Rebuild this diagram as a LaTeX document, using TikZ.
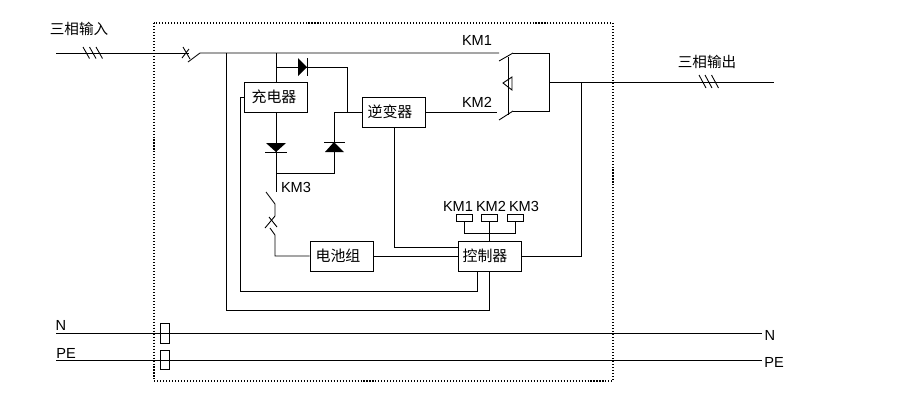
\documentclass[tikz,border=0pt]{standalone}
\usepackage{fontspec}
\setmainfont{Liberation Sans}
\newfontfamily\cjk{Noto Sans CJK SC}
\tikzset{
  wire/.style={line width=0.5pt},
  unitbox/.style={draw,line width=0.5pt,minimum width=1.26cm,minimum height=0.6cm,inner sep=0pt,font=\cjk\fontsize{8.5}{10}\selectfont},
  coilbox/.style={draw,line width=0.5pt,minimum width=0.32cm,minimum height=0.14cm,inner sep=0pt},
  fusebox/.style={draw,line width=0.5pt,minimum width=0.18cm,minimum height=0.39cm,inner sep=0pt},
  cnlabel/.style={inner sep=0pt,font=\cjk\fontsize{8.3}{10}\selectfont},
  kmlabel/.style={inner sep=0pt,font=\fontsize{8.3}{10}\selectfont}
}
\begin{document}
\begin{tikzpicture}[x=0.02cm,y=-0.02cm]
\useasboundingbox (0,0) rectangle (905,414);
\draw[line width=0.6pt,dash pattern=on 0.6pt off 1.1pt] (154,23) rectangle (613,381);
\node[unitbox] (charger) at (275.5,97) {充电器\kern0.06cm};
\node[unitbox] (inverter) at (394,112) {逆变器\kern0.16cm};
\node[unitbox] (battery) at (341.5,256) {电池组\kern0.14cm};
\node[unitbox] (ctrl) at (489.5,256) {控制器\kern0.18cm};
\node[fusebox] (fuseN) at (164.5,333.5) {};
\node[fusebox] (fusePE) at (164.5,360) {};
\foreach \n/\x in {1/464,2/489.5,3/515}
    \node[coilbox] (coil\n) at (\x,217.5) {};
\foreach \n/\x in {1/458,2/491,3/524}
    \node[kmlabel] (coiltext\n) at (\x,206.5) {KM\n};
\node[cnlabel] (inlabel) at (79,29) {三相输入};
\node[cnlabel] (outlabel) at (707,62) {三相输出};
\node[kmlabel] (km1) at (477,40) {KM1};
\node[kmlabel] (km2) at (477,102) {KM2};
\node[kmlabel] (km3) at (296,187) {KM3};
\node[kmlabel] (nleft) at (61,325) {N};
\node[kmlabel] (peleft) at (66,353) {PE};
\node[kmlabel] (nright) at (770,335) {N};
\node[kmlabel] (peright) at (774,362) {PE};
% three phase lines
\coordinate (inA) at (56,53);
\coordinate (brkA) at (189,53);
\coordinate (brkB) at (200,53);
\coordinate (tap1) at (226,53);
\coordinate (tap2) at (276,53);
\coordinate (km1A) at (499,53);
\coordinate (km1B) at (513,53);
\coordinate (km1C) at (549,53);
\coordinate (km2C) at (549,111);
\coordinate (km2B) at (513,111);
\coordinate (km2A) at (497,112);
\coordinate (outA) at (549,82);
\coordinate (tap3) at (581,82);
\coordinate (outB) at (774,82);
\draw[wire] (inA) -- (brkA);
\draw[wire] (188,62) -- (brkB) -- (km1A);
\draw[wire] (km1B) -- (km1C) -- (km2C) -- (km2B);
\draw[wire] (499,61) -- (km1B);
\draw[wire] (499,120) -- (km2B);
\draw[wire] (183,47) -- (190,59) (182,58) -- (189,49);
\draw[wire] (508,57) -- (508,115);
\draw[wire] (512,77) -- (503,83) -- (512,90) -- cycle;
\draw[wire] (outA) -- (outB);
\draw[wire] (inverter.east) -- (km2A);
\foreach \x in {83,89.5,96}
    \draw[wire] (\x,47) -- (\x+6.5,58.5);
\foreach \x in {699,705,711.5}
    \draw[wire] (\x,75) -- (\x+7,88);
% charger and diodes
\coordinate (dcA) at (276,67);
\coordinate (dcB) at (347,67);
\coordinate (dcC) at (347,112);
\coordinate (dcD) at (334,112);
\coordinate (dcE) at (334,173);
\coordinate (dcF) at (276,173);
\coordinate (dcG) at (276,192);
\draw[wire] (tap2) -- (charger.north -| tap2);
\draw[wire] (dcA) -- (dcB) -- (dcC) -- (inverter.west);
\draw[wire] (dcC) -- (dcD) -- (dcE) -- (dcF);
\draw[wire] (charger.south -| tap2) -- (dcG);
\fill (298,58) -- (307,67) -- (298,76) -- cycle;
\draw[wire] (307,58) -- (307,76);
\fill (266,143) -- (286,143) -- (276,152) -- cycle;
\draw[wire] (265,152) -- (287,152);
\fill (325,152) -- (344,152) -- (334,142) -- cycle;
\draw[wire] (324,142) -- (345,142);
% battery branch
\coordinate (batA) at (275,235);
\coordinate (batB) at (275,256);
\draw[wire] (266,192) -- (275,204) -- (275,216) -- (265,228);
\draw[wire] (269,217) -- (277,227);
\draw[wire] (270,228) -- (batA) -- (batB) -- (battery.west);
\draw[wire] (battery.east) -- (ctrl.west);
% control lines
\coordinate (invA) at (394,247);
\coordinate (ctlA) at (458,247);
\coordinate (chgA) at (240,97);
\coordinate (chgB) at (240,291);
\coordinate (chgC) at (477,291);
\coordinate (chgD) at (477,271);
\coordinate (tapB) at (226,310);
\coordinate (tapC) at (489.5,310);
\coordinate (coilbus) at (489.5,233);
\draw[wire] (inverter.south) -- (invA) -- (ctlA);
\draw[wire] (charger.west) -- (chgA) -- (chgB) -- (chgC) -- (chgD);
\draw[wire] (tap1) -- (tapB) -- (tapC) -- (ctrl.south);
\draw[wire] (ctrl.east) -- (tap3 |- ctrl.east) -- (tap3);
\draw[wire] (coil2.south) -- (ctrl.north);
\draw[wire] (coil1.south) |- (coilbus) -| (coil3.south);
% neutral and earth
\coordinate (nA) at (56,333);
\coordinate (nB) at (762,333);
\coordinate (peA) at (56,360);
\coordinate (peB) at (762,360);
\draw[wire] (nA) -- (nB);
\draw[wire] (peA) -- (peB);
\end{tikzpicture}
\end{document}
